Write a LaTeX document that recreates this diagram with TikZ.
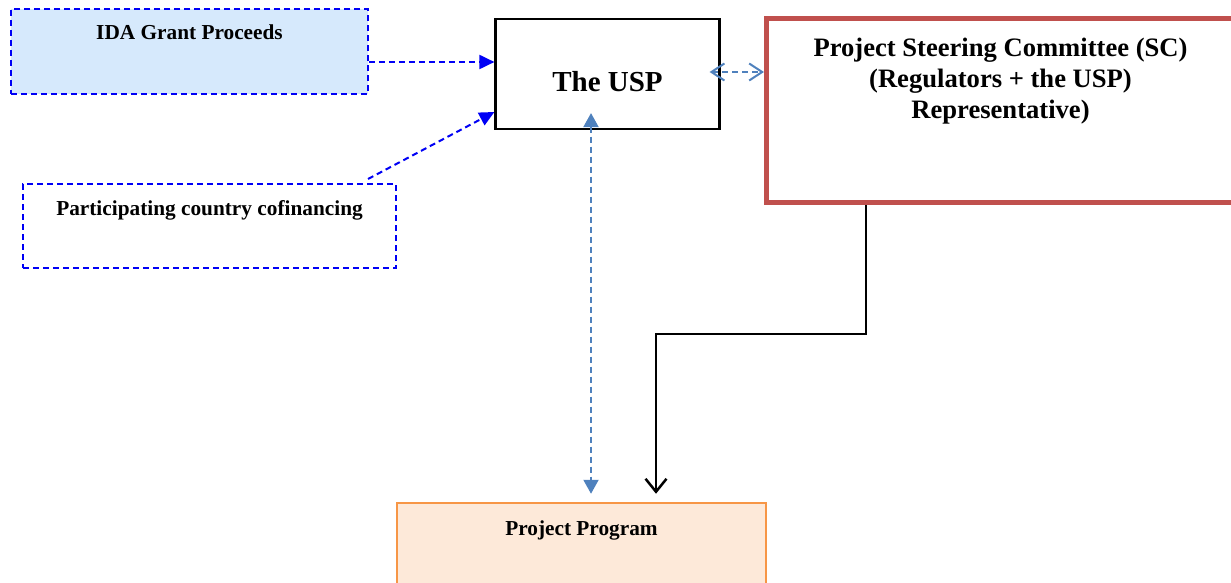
\documentclass[tikz,border=0pt]{standalone}
\usepackage{fontspec}
\setmainfont{Liberation Serif}
\usetikzlibrary{arrows.meta}
\definecolor{dblue}{RGB}{0,0,245}
\definecolor{idafill}{RGB}{214,233,252}
\definecolor{steel}{RGB}{79,129,189}
\definecolor{scred}{RGB}{192,80,77}
\definecolor{orng}{RGB}{247,150,70}
\definecolor{peach}{RGB}{253,233,217}
\tikzset{
  box/.style={rectangle, inner sep=0pt},
  bluedash/.style={draw=dblue, line width=2pt, dash pattern=on 6pt off 4pt},
  txt/.style={inner sep=0pt, font=\bfseries\fontsize{21.3}{24.5}\selectfont},
  bluearrow/.style={dblue, line width=2pt, dash pattern=on 6pt off 4pt, -{Triangle[length=15pt,width=14pt]}},
  steelarrow/.style={steel, line width=2pt, dash pattern=on 6pt off 4pt},
}
\begin{document}
\begin{tikzpicture}[x=1pt,y=-1pt]
\useasboundingbox (0,0) rectangle (1231,583);
% boxes
\node[box, bluedash, fill=idafill, minimum width=357pt, minimum height=85pt] (ida) at (189.5,51.5) {};
\node[txt, anchor=base] (idat) at (189.5,40) {IDA Grant Proceeds};
\node[box, bluedash, fill=white, minimum width=373pt, minimum height=84pt] (pc) at (209.5,226) {};
\node[txt, anchor=base] (pct) at (209.5,215) {Participating country cofinancing};
\node[box, draw=black, line width=2.2pt, minimum width=224pt, minimum height=110pt] (usp) at (607.5,74) {};
\node[inner sep=0pt, anchor=base, font=\bfseries\fontsize{29}{33}\selectfont] (uspt) at (607.5,92) {The USP};
\node[box, draw=scred, line width=5pt, minimum width=480pt, minimum height=183.5pt] (sc) at (1006.5,110.75) {};
\node[inner sep=0pt, anchor=north, align=center, font=\bfseries\fontsize{26.6}{31}\selectfont] (sct) at (1000.5,38) {Project Steering Committee (SC)\\(Regulators + the USP)\\Representative)};
\node[box, draw=orng, fill=peach, line width=2.5pt, minimum width=369pt, minimum height=100pt] (pp) at (581.5,553) {};
\node[txt, anchor=base] (ppt) at (581.5,535) {Project Program};
% connectors
\draw[bluearrow] (ida.east |- 0,62) -- (usp.west |- 0,62);
\draw[bluearrow] (368,179) coordinate (pcs) -- (usp.west |- 0,112);
\draw[steelarrow, {Straight Barb[length=13pt,width=17pt]}-{Straight Barb[length=13pt,width=17pt]}, shorten <=-11pt] (usp.east |- 0,72) -- (764,72) coordinate (scw);
\draw[steelarrow, {Triangle[length=14pt,width=15pt]}-{Triangle[length=14pt,width=15pt]}, shorten <=-17pt, shorten >=8pt] (usp.south -| 591,0) -- (pp.north -| 591,0);
\draw[black, line width=2.5pt, -{Straight Barb[length=13pt,width=21pt]}, shorten >=8pt] (sc.south -| 866,0) |- (656,334) -- (pp.north -| 656,0);
\end{tikzpicture}
\end{document}
